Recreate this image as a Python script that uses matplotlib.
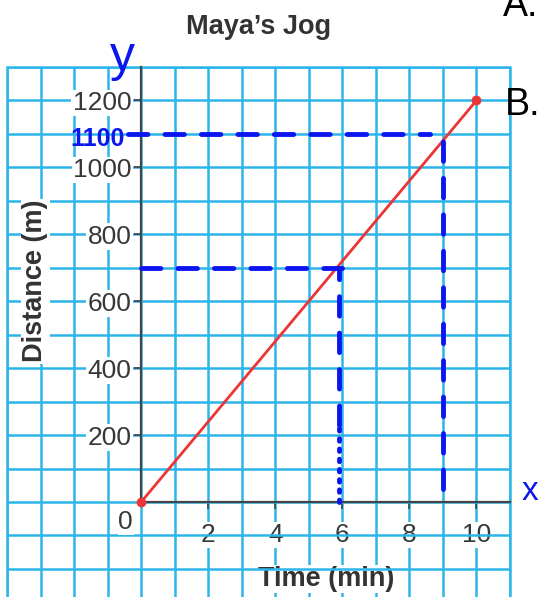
import matplotlib.pyplot as plt
from matplotlib.ticker import MultipleLocator, FixedLocator
from matplotlib.patches import Rectangle

plt.rcParams['font.family'] = ['Liberation Sans', 'DejaVu Sans']

# Maya's jog: straight line from start to finish
times = [0, 10]
distances = [0, 1200]
x_ticks = [2, 4, 6, 8, 10]
y_ticks = [200, 400, 600, 800, 1000, 1200]

# hand-drawn reading guides (y value read -> x value found)
guide_y = [1100, 700]
guide_x = [9.0, 5.9]

grid_col = '#2cb5ea'
axis_col = '#444444'
txt_col = '#383838'
pen = '#0b16ef'
paper = dict(fc='white', ec='none', pad=1)

fig = plt.figure(figsize=(5.44, 5.97), dpi=100)
# graph paper spans x -4..11, y -300..1300 (bottom row runs off the page)
ax = fig.add_axes([7 / 544, -5.4 / 597, 503 / 544, 535.4 / 597])
ax.set_xlim(-4, 11)
ax.set_ylim(-300, 1300)

ax.xaxis.set_major_locator(FixedLocator(x_ticks))
ax.yaxis.set_major_locator(FixedLocator(y_ticks))
ax.xaxis.set_minor_locator(MultipleLocator(1))
ax.yaxis.set_minor_locator(MultipleLocator(100))
ax.grid(True, which='both', color=grid_col, lw=1.8)
ax.set_axisbelow(True)
ax.add_patch(Rectangle((0, 0), 1, 1, transform=ax.transAxes, fill=False,
                       ec=grid_col, lw=1.8, clip_on=False, zorder=0.6))

for s in ['top', 'right']:
    ax.spines[s].set_visible(False)
ax.spines['left'].set_position(('data', 0))
ax.spines['bottom'].set_position(('data', 0))
ax.spines['left'].set_bounds(0, 1300)
ax.spines['bottom'].set_bounds(0, 11)
for s in ['left', 'bottom']:
    ax.spines[s].set_color(axis_col)
    ax.spines[s].set_linewidth(1.6)
    ax.spines[s].set_zorder(2.5)

ax.tick_params(which='minor', length=0)
ax.tick_params(axis='y', which='major', direction='out', length=5, width=1.2,
               color=axis_col, pad=2, labelsize=19, labelcolor=txt_col)
ax.tick_params(axis='x', which='major', direction='out', length=5, width=1.2,
               color=axis_col, pad=10, labelsize=19, labelcolor=txt_col)
for t in ax.xaxis.get_major_ticks() + ax.yaxis.get_major_ticks():
    t.label1.set_bbox(paper)
ax.text(-0.46, -60, '0', ha='center', va='center', fontsize=19, color=txt_col,
        bbox=dict(fc='white', ec='none', pad=0.3))

ax.plot(times, distances, color='#ec3535', lw=2, marker='o', ms=6, zorder=3)

ax.set_title('Maya\u2019s Jog', fontsize=19.5, fontweight='bold', color='#333333', pad=24)
ax.set_xlabel('Time (min)', fontsize=19.5, fontweight='bold', color='#333333',
              va='center', bbox=paper)
ax.xaxis.set_label_coords(5.53, -230, transform=ax.transData)
ax.set_ylabel('Distance (m)', fontsize=19.5, fontweight='bold', color='#333333',
              va='center', ha='center', bbox=paper)
ax.yaxis.set_label_coords(-3.16, 660, transform=ax.transData)

# pen annotations
dash = (0, (4, 3.5))
ax.hlines(guide_y, [-0.4, 0], [guide_x[0] - 0.4, guide_x[1] + 0.1], colors=pen, lw=3.5,
          linestyles=dash, capstyle='round', zorder=4)
ax.vlines(guide_x[0], 40, guide_y[0], colors=pen, lw=3.5, linestyles=dash,
          capstyle='round', zorder=4)
ax.vlines(guide_x[1], 230, guide_y[1], colors=pen, lw=3.5, linestyles=dash,
          capstyle='round', zorder=4)
ax.vlines(guide_x[1], 0, 230, colors=pen, lw=3.5, linestyles=(0, (0.5, 1.6)),
          capstyle='round', zorder=4)
ax.text(-1.3, 1085, '1100', ha='center', va='center', color=pen, fontsize=18,
        fontweight='bold', family=['Liberation Sans Narrow', 'DejaVu Sans Condensed',
                                   'Liberation Sans'])

fig.text(122 / 544, 1 - 58 / 597, 'y', ha='center', va='center', color=pen, fontsize=36)
fig.text(522 / 544, 1 - 491 / 597, 'x', ha='left', va='center', color=pen, fontsize=24)
fig.text(503 / 544, 1 - 16 / 597, 'A.', va='baseline', fontsize=27, color='black')
fig.text(505 / 544, 1 - 115 / 597, 'B.', va='baseline', fontsize=27, color='black')

fig.savefig('out.png', dpi=100)
